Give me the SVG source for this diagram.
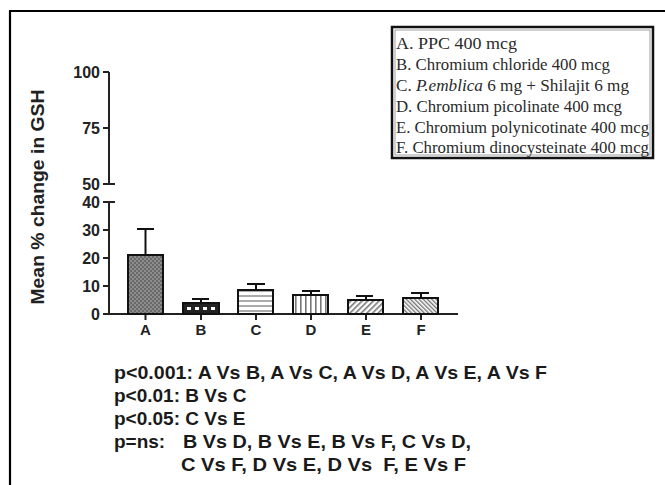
<svg xmlns="http://www.w3.org/2000/svg" width="665" height="485" viewBox="0 0 665 485">
<style>
.ax{stroke:#222;stroke-width:2;fill:none}
.bar{stroke:#111;stroke-width:2}
.err{stroke:#111;stroke-width:2;fill:none}
.tick{font-family:"Liberation Sans",Arial,sans-serif;font-weight:bold;font-size:16px;fill:#222;text-anchor:end}
.xl{font-family:"Liberation Sans",Arial,sans-serif;font-weight:bold;font-size:15px;fill:#222;text-anchor:middle}
.leg{font-family:"Liberation Serif","Times New Roman",serif;font-size:16px;fill:#2a2a2a}
.pv{font-family:"Liberation Sans",Arial,sans-serif;font-weight:bold;font-size:19px;fill:#1a1a1a}
</style>
<defs>
<pattern id="pA" width="4" height="4" patternUnits="userSpaceOnUse">
<rect width="4" height="4" fill="#8c8c8c"/><rect width="2" height="2" fill="#6a6a6a"/><rect x="2" y="2" width="2" height="2" fill="#6a6a6a"/>
</pattern>
<pattern id="pB" width="8" height="12" patternUnits="userSpaceOnUse" x="185" y="303">
<rect width="8" height="12" fill="#222"/><rect x="2" y="4" width="4" height="3" fill="#fff"/>
</pattern>
<pattern id="pC" width="5" height="5" patternUnits="userSpaceOnUse">
<rect width="5" height="5" fill="#fff"/><rect width="5" height="2" fill="#aaa"/>
</pattern>
<pattern id="pD" width="5" height="5" patternUnits="userSpaceOnUse">
<rect width="5" height="5" fill="#fff"/><rect width="1.6" height="5" fill="#777"/>
</pattern>
<pattern id="pE" width="4" height="4" patternUnits="userSpaceOnUse" patternTransform="rotate(45)">
<rect width="4" height="4" fill="#fff"/><rect width="1.6" height="4" fill="#777"/>
</pattern>
<pattern id="pF" width="3" height="3" patternUnits="userSpaceOnUse" patternTransform="rotate(-45)">
<rect width="3" height="3" fill="#fff"/><rect width="1.4" height="3" fill="#777"/>
</pattern>
</defs>
<rect width="665" height="485" fill="#fff"/>
<g id="frame">
<path d="M9 11H665M10 11V485" stroke="#000" stroke-width="2.2" fill="none"/>
</g>
<g id="legend">
<rect x="392" y="27" width="261" height="131" fill="#fff" stroke="#111" stroke-width="2.5"/>
<rect x="395" y="30" width="255" height="125" fill="none" stroke="#888" stroke-width="0.8"/>
<text class="leg" x="396" y="49" textLength="121" lengthAdjust="spacingAndGlyphs">A. PPC 400 mcg</text>
<text class="leg" x="396" y="70" textLength="214" lengthAdjust="spacingAndGlyphs">B. Chromium chloride 400 mcg</text>
<text class="leg" x="396" y="91" textLength="233" lengthAdjust="spacingAndGlyphs">C. <tspan font-style="italic">P.emblica</tspan> 6 mg + Shilajit 6 mg</text>
<text class="leg" x="396" y="112" textLength="226" lengthAdjust="spacingAndGlyphs">D. Chromium picolinate 400 mcg</text>
<text class="leg" x="396" y="133" textLength="253" lengthAdjust="spacingAndGlyphs">E. Chromium polynicotinate 400 mcg</text>
<text class="leg" x="396" y="153" textLength="253" lengthAdjust="spacingAndGlyphs">F. Chromium dinocysteinate 400 mcg</text>
</g>
<g id="yaxis">
<path class="ax" d="M109 72V184M103 72H109M103 128H109M103 184H115M109 202V314M103 202H115M103 230H109M103 258H109M103 286H109"/>
<text class="tick" x="100" y="78">100</text>
<text class="tick" x="100" y="134">75</text>
<text class="tick" x="100" y="190">50</text>
<text class="tick" x="100" y="208">40</text>
<text class="tick" x="100" y="236">30</text>
<text class="tick" x="100" y="264">20</text>
<text class="tick" x="100" y="292">10</text>
<text class="tick" x="100" y="320">0</text>
<text font-family="Liberation Sans,Arial,sans-serif" font-weight="bold" font-size="19" fill="#222" text-anchor="middle" transform="translate(44,197) rotate(-90)" textLength="215" lengthAdjust="spacingAndGlyphs">Mean % change in GSH</text>
</g>
<g id="xaxis">
<path class="ax" d="M103 314H458M145.5 314V320M201 314V320M256 314V320M311 314V320M366 314V320M421 314V320"/>
<text class="xl" x="145.5" y="335">A</text>
<text class="xl" x="201" y="335">B</text>
<text class="xl" x="256" y="335">C</text>
<text class="xl" x="311" y="335">D</text>
<text class="xl" x="366" y="335">E</text>
<text class="xl" x="421" y="335">F</text>
</g>
<g id="barA"><path class="err" d="M145.5 255V229M137 229H154"/><rect class="bar" x="128" y="255" width="35" height="59" fill="url(#pA)"/></g>
<g id="barB"><path class="err" d="M201 303V299M192 299H209"/><rect class="bar" x="183" y="303" width="36" height="11" fill="url(#pB)"/></g>
<g id="barC"><path class="err" d="M256 290V284M247 284H265"/><rect class="bar" x="238" y="290" width="35" height="24" fill="url(#pC)"/></g>
<g id="barD"><path class="err" d="M311 295V291M302 291H320"/><rect class="bar" x="293" y="295" width="35" height="19" fill="url(#pD)"/></g>
<g id="barE"><path class="err" d="M366 300V296M356 296H373"/><rect class="bar" x="348" y="300" width="35" height="14" fill="url(#pE)"/></g>
<g id="barF"><path class="err" d="M421 298V293M411 293H429"/><rect class="bar" x="403" y="298" width="35" height="16" fill="url(#pF)"/></g>
<g id="stats">
<text class="pv" x="114" y="379" textLength="433" lengthAdjust="spacingAndGlyphs">p&lt;0.001: A Vs B, A Vs C, A Vs D, A Vs E, A Vs F</text>
<text class="pv" x="114" y="402">p&lt;0.01: B Vs C</text>
<text class="pv" x="114" y="425">p&lt;0.05: C Vs E</text>
<text class="pv" x="114" y="448">p=ns:</text>
<text class="pv" x="183" y="448" textLength="288" lengthAdjust="spacingAndGlyphs">B Vs D, B Vs E, B Vs F, C Vs D,</text>
<text class="pv" x="181" y="471" xml:space="preserve" textLength="285" lengthAdjust="spacingAndGlyphs">C Vs F, D Vs E, D Vs  F, E Vs F</text>
</g>
</svg>
